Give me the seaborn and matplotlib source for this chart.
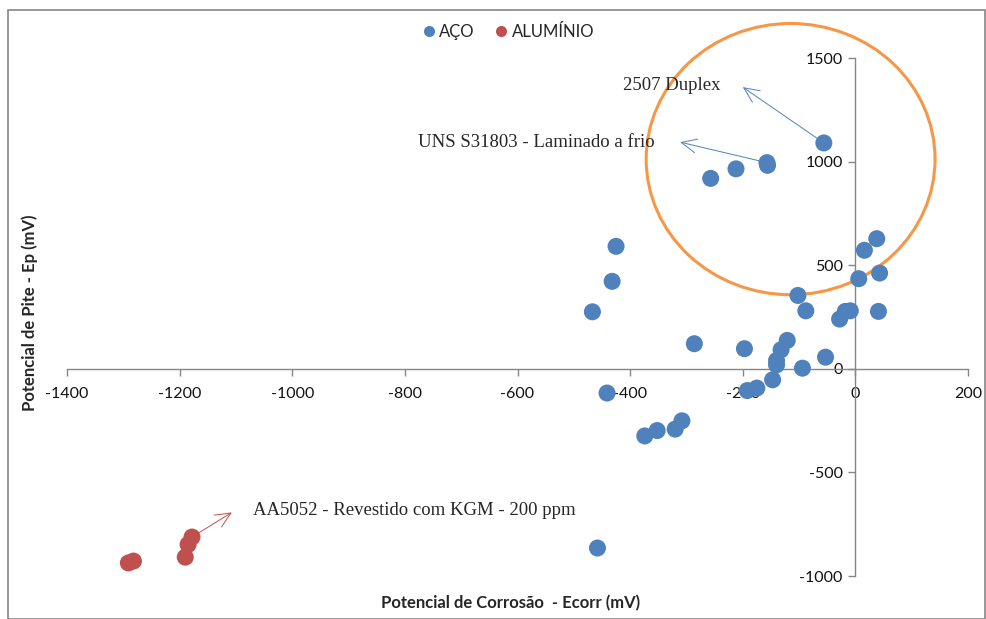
import matplotlib
matplotlib.use('Agg')
import matplotlib.pyplot as plt
import seaborn as sns
import pandas as pd
from matplotlib.patches import Ellipse, Rectangle

# Dados (mV)
aco_ecorr = [-56, -157, -156, -212, -257, -425, -432, -467, 38, 16, 6, 43,
             -102, -88, -28, -18, -9, 41, -286, -197, -121, -132, -140, -140,
             -94, -53, -147, -175, -192, -441, -308, -320, -352, -374, -458]
aco_ep = [1090, 995, 982, 965, 919, 591, 422, 275, 628, 572, 435, 462,
          354, 280, 240, 277, 280, 277, 121, 97, 137, 92, 40, 19,
          3, 56, -53, -93, -105, -117, -251, -291, -298, -324, -865]
al_ecorr = [-1291, -1282, -1190, -1185, -1178]
al_ep = [-937, -928, -909, -848, -812]

materiais = ['AÇO', 'ALUMÍNIO']
cores = ['#4F81BD', '#C0504D']
x_ticks = [-1400, -1200, -1000, -800, -600, -400, -200, 0, 200]
y_ticks = [-1000, -500, 0, 500, 1000, 1500]

df = pd.DataFrame({
    'Ecorr': aco_ecorr + al_ecorr,
    'Ep': aco_ep + al_ep,
    'Material': [materiais[0]] * len(aco_ecorr) + [materiais[1]] * len(al_ecorr),
})

sns.set_style('white')
plt.rcParams['font.family'] = ['Lato', 'DejaVu Sans']
plt.rcParams['axes.unicode_minus'] = False

fig = plt.figure(figsize=(9.86, 6.19), dpi=100)
ax = fig.add_axes([67 / 986, 43 / 619, 901 / 986, 518 / 619])

sns.scatterplot(data=df, x='Ecorr', y='Ep', hue='Material', palette=cores,
                s=150, edgecolor='none', ax=ax, zorder=3)

ax.set_xlim(-1400, 200)
ax.set_ylim(-1000, 1500)
ax.set_xticks(x_ticks)
ax.set_yticks(y_ticks)

# eixos cruzando na origem, estilo Excel
for s in ['top', 'right']:
    ax.spines[s].set_visible(False)
ax.spines['left'].set_position(('data', 0))
ax.spines['bottom'].set_position(('data', 0))
for s in ['left', 'bottom']:
    ax.spines[s].set_color('#868686')
    ax.spines[s].set_linewidth(1.0)
ax.tick_params(axis='both', which='major', bottom=True, left=True, direction='out',
               length=5, width=1, color='#868686', labelsize=11.5, labelcolor='#111111')
ax.tick_params(axis='x', pad=8)
ax.tick_params(axis='y', pad=4)
ax.set_xlabel('')
ax.set_ylabel('')

# legenda no topo
handles, labels = ax.get_legend_handles_labels()
ax.legend(handles, labels, loc='center', bbox_to_anchor=(505 / 986, 1 - 32 / 619),
          bbox_transform=fig.transFigure, ncol=2, frameon=False, fontsize=12,
          markerscale=0.65, handletextpad=-0.1, columnspacing=0.8, handlelength=1.5)

# anotações
serif = ['Liberation Serif', 'DejaVu Serif']
seta = dict(arrowstyle='->,head_length=1.1,head_width=0.5', lw=0.7)
ax.annotate('', xy=(-204, 1367), xytext=(aco_ecorr[0], aco_ep[0]),
            arrowprops=dict(seta, color='#4F81BD'), zorder=4)
ax.text(-412, 1367, '2507 Duplex', family=serif, fontsize=13.5, va='center', ha='left')
ax.annotate('', xy=(-316, 1097), xytext=(aco_ecorr[1], aco_ep[1]),
            arrowprops=dict(seta, color='#4F81BD'), zorder=4)
ax.text(-776, 1092, 'UNS S31803 - Laminado a frio', family=serif, fontsize=13.5,
        va='center', ha='left')
ax.annotate('', xy=(-1103, -686), xytext=(al_ecorr[-1], al_ep[-1]),
            arrowprops=dict(seta, color='#C0504D'), zorder=4)
ax.text(-1069, -686, 'AA5052 - Revestido com KGM - 200 ppm', family=serif, fontsize=13.5,
        va='center', ha='left')

# destaque em laranja
circ = Ellipse((-115, 1012), 513, 1309, fill=False, edgecolor='#F79646', lw=2.2,
               clip_on=False, zorder=2)
ax.add_patch(circ)

# títulos dos eixos
fig.text(511 / 986, 1 - 603 / 619, 'Potencial de Corrosão  - Ecorr (mV)',
         ha='center', va='center', fontsize=12, fontweight='bold')
fig.text(30 / 986, 1 - 313 / 619, 'Potencial de Pite - Ep (mV)', rotation=90,
         ha='center', va='center', fontsize=12, fontweight='bold')

# borda da área do gráfico
fig.patches.append(Rectangle((8 / 986, 0), 1 - 8 / 986 - 1 / 986, 1 - 10 / 619,
                             transform=fig.transFigure, fill=False,
                             edgecolor='#868686', lw=1.2))

fig.savefig('out.png', dpi=100)
